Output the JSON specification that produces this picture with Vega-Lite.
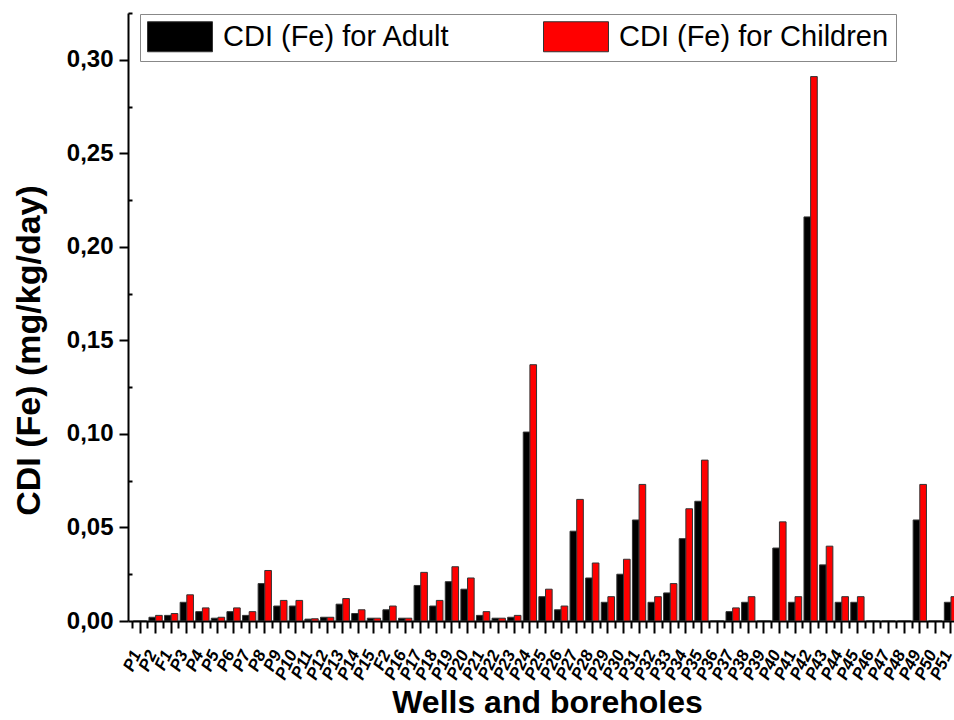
{
  "$schema": "https://vega.github.io/schema/vega-lite/v6.json",
  "width": 826,
  "height": 608,
  "autosize": {"type": "none"},
  "padding": {"left": 128, "top": 13, "right": 0, "bottom": 99},
  "background": "white",
  "config": {"view": {"stroke": null}, "font": "Liberation Sans"},
  "data": {"values": [
    {"site": "P1", "group": "CDI (Fe) for Adult", "value": 0}, {"site": "P1", "group": "CDI (Fe) for Children", "value": 0},
    {"site": "P2", "group": "CDI (Fe) for Adult", "value": 0.002}, {"site": "P2", "group": "CDI (Fe) for Children", "value": 0.003},
    {"site": "F1", "group": "CDI (Fe) for Adult", "value": 0.003}, {"site": "F1", "group": "CDI (Fe) for Children", "value": 0.004},
    {"site": "P3", "group": "CDI (Fe) for Adult", "value": 0.010}, {"site": "P3", "group": "CDI (Fe) for Children", "value": 0.014},
    {"site": "P4", "group": "CDI (Fe) for Adult", "value": 0.005}, {"site": "P4", "group": "CDI (Fe) for Children", "value": 0.007},
    {"site": "P5", "group": "CDI (Fe) for Adult", "value": 0.0015}, {"site": "P5", "group": "CDI (Fe) for Children", "value": 0.002},
    {"site": "P6", "group": "CDI (Fe) for Adult", "value": 0.005}, {"site": "P6", "group": "CDI (Fe) for Children", "value": 0.007},
    {"site": "P7", "group": "CDI (Fe) for Adult", "value": 0.003}, {"site": "P7", "group": "CDI (Fe) for Children", "value": 0.005},
    {"site": "P8", "group": "CDI (Fe) for Adult", "value": 0.020}, {"site": "P8", "group": "CDI (Fe) for Children", "value": 0.027},
    {"site": "P9", "group": "CDI (Fe) for Adult", "value": 0.008}, {"site": "P9", "group": "CDI (Fe) for Children", "value": 0.011},
    {"site": "P10", "group": "CDI (Fe) for Adult", "value": 0.008}, {"site": "P10", "group": "CDI (Fe) for Children", "value": 0.011},
    {"site": "P11", "group": "CDI (Fe) for Adult", "value": 0.001}, {"site": "P11", "group": "CDI (Fe) for Children", "value": 0.0012},
    {"site": "P12", "group": "CDI (Fe) for Adult", "value": 0.002}, {"site": "P12", "group": "CDI (Fe) for Children", "value": 0.002},
    {"site": "P13", "group": "CDI (Fe) for Adult", "value": 0.009}, {"site": "P13", "group": "CDI (Fe) for Children", "value": 0.012},
    {"site": "P14", "group": "CDI (Fe) for Adult", "value": 0.004}, {"site": "P14", "group": "CDI (Fe) for Children", "value": 0.006},
    {"site": "P15", "group": "CDI (Fe) for Adult", "value": 0.0015}, {"site": "P15", "group": "CDI (Fe) for Children", "value": 0.0015},
    {"site": "F2", "group": "CDI (Fe) for Adult", "value": 0.006}, {"site": "F2", "group": "CDI (Fe) for Children", "value": 0.008},
    {"site": "P16", "group": "CDI (Fe) for Adult", "value": 0.0015}, {"site": "P16", "group": "CDI (Fe) for Children", "value": 0.0015},
    {"site": "P17", "group": "CDI (Fe) for Adult", "value": 0.019}, {"site": "P17", "group": "CDI (Fe) for Children", "value": 0.026},
    {"site": "P18", "group": "CDI (Fe) for Adult", "value": 0.008}, {"site": "P18", "group": "CDI (Fe) for Children", "value": 0.011},
    {"site": "P19", "group": "CDI (Fe) for Adult", "value": 0.021}, {"site": "P19", "group": "CDI (Fe) for Children", "value": 0.029},
    {"site": "P20", "group": "CDI (Fe) for Adult", "value": 0.017}, {"site": "P20", "group": "CDI (Fe) for Children", "value": 0.023},
    {"site": "P21", "group": "CDI (Fe) for Adult", "value": 0.003}, {"site": "P21", "group": "CDI (Fe) for Children", "value": 0.005},
    {"site": "P22", "group": "CDI (Fe) for Adult", "value": 0.0015}, {"site": "P22", "group": "CDI (Fe) for Children", "value": 0.0015},
    {"site": "P23", "group": "CDI (Fe) for Adult", "value": 0.002}, {"site": "P23", "group": "CDI (Fe) for Children", "value": 0.003},
    {"site": "P24", "group": "CDI (Fe) for Adult", "value": 0.101}, {"site": "P24", "group": "CDI (Fe) for Children", "value": 0.137},
    {"site": "P25", "group": "CDI (Fe) for Adult", "value": 0.013}, {"site": "P25", "group": "CDI (Fe) for Children", "value": 0.017},
    {"site": "P26", "group": "CDI (Fe) for Adult", "value": 0.006}, {"site": "P26", "group": "CDI (Fe) for Children", "value": 0.008},
    {"site": "P27", "group": "CDI (Fe) for Adult", "value": 0.048}, {"site": "P27", "group": "CDI (Fe) for Children", "value": 0.065},
    {"site": "P28", "group": "CDI (Fe) for Adult", "value": 0.023}, {"site": "P28", "group": "CDI (Fe) for Children", "value": 0.031},
    {"site": "P29", "group": "CDI (Fe) for Adult", "value": 0.010}, {"site": "P29", "group": "CDI (Fe) for Children", "value": 0.013},
    {"site": "P30", "group": "CDI (Fe) for Adult", "value": 0.025}, {"site": "P30", "group": "CDI (Fe) for Children", "value": 0.033},
    {"site": "P31", "group": "CDI (Fe) for Adult", "value": 0.054}, {"site": "P31", "group": "CDI (Fe) for Children", "value": 0.073},
    {"site": "P32", "group": "CDI (Fe) for Adult", "value": 0.010}, {"site": "P32", "group": "CDI (Fe) for Children", "value": 0.013},
    {"site": "P33", "group": "CDI (Fe) for Adult", "value": 0.015}, {"site": "P33", "group": "CDI (Fe) for Children", "value": 0.020},
    {"site": "P34", "group": "CDI (Fe) for Adult", "value": 0.044}, {"site": "P34", "group": "CDI (Fe) for Children", "value": 0.060},
    {"site": "P35", "group": "CDI (Fe) for Adult", "value": 0.064}, {"site": "P35", "group": "CDI (Fe) for Children", "value": 0.086},
    {"site": "P36", "group": "CDI (Fe) for Adult", "value": 0}, {"site": "P36", "group": "CDI (Fe) for Children", "value": 0},
    {"site": "P37", "group": "CDI (Fe) for Adult", "value": 0.005}, {"site": "P37", "group": "CDI (Fe) for Children", "value": 0.007},
    {"site": "P38", "group": "CDI (Fe) for Adult", "value": 0.010}, {"site": "P38", "group": "CDI (Fe) for Children", "value": 0.013},
    {"site": "P39", "group": "CDI (Fe) for Adult", "value": 0}, {"site": "P39", "group": "CDI (Fe) for Children", "value": 0},
    {"site": "P40", "group": "CDI (Fe) for Adult", "value": 0.039}, {"site": "P40", "group": "CDI (Fe) for Children", "value": 0.053},
    {"site": "P41", "group": "CDI (Fe) for Adult", "value": 0.010}, {"site": "P41", "group": "CDI (Fe) for Children", "value": 0.013},
    {"site": "P42", "group": "CDI (Fe) for Adult", "value": 0.216}, {"site": "P42", "group": "CDI (Fe) for Children", "value": 0.291},
    {"site": "P43", "group": "CDI (Fe) for Adult", "value": 0.030}, {"site": "P43", "group": "CDI (Fe) for Children", "value": 0.040},
    {"site": "P44", "group": "CDI (Fe) for Adult", "value": 0.010}, {"site": "P44", "group": "CDI (Fe) for Children", "value": 0.013},
    {"site": "P45", "group": "CDI (Fe) for Adult", "value": 0.010}, {"site": "P45", "group": "CDI (Fe) for Children", "value": 0.013},
    {"site": "P46", "group": "CDI (Fe) for Adult", "value": 0}, {"site": "P46", "group": "CDI (Fe) for Children", "value": 0},
    {"site": "P47", "group": "CDI (Fe) for Adult", "value": 0}, {"site": "P47", "group": "CDI (Fe) for Children", "value": 0},
    {"site": "P48", "group": "CDI (Fe) for Adult", "value": 0}, {"site": "P48", "group": "CDI (Fe) for Children", "value": 0},
    {"site": "P49", "group": "CDI (Fe) for Adult", "value": 0.054}, {"site": "P49", "group": "CDI (Fe) for Children", "value": 0.073},
    {"site": "P50", "group": "CDI (Fe) for Adult", "value": 0}, {"site": "P50", "group": "CDI (Fe) for Children", "value": 0},
    {"site": "P51", "group": "CDI (Fe) for Adult", "value": 0.010}, {"site": "P51", "group": "CDI (Fe) for Children", "value": 0.013}
  ]},
  "layer": [
    {
      "mark": {"type": "bar", "clip": true, "stroke": "#333333", "strokeWidth": 1},
      "encoding": {
        "x": {
          "field": "site", "type": "nominal",
          "scale": {
            "domain": ["P1","P2","F1","P3","P4","P5","P6","P7","P8","P9","P10","P11","P12","P13","P14","P15","F2","P16","P17","P18","P19","P20","P21","P22","P23","P24","P25","P26","P27","P28","P29","P30","P31","P32","P33","P34","P35","P36","P37","P38","P39","P40","P41","P42","P43","P44","P45","P46","P47","P48","P49","P50","P51"],
            "range": [0, 835], "paddingInner": 0, "paddingOuter": 0.27
          },
          "axis": {
            "orient": "bottom",
            "title": "Wells and boreholes", "titleFontSize": 32, "titleFontWeight": "bold", "titleColor": "#000000",
            "titleX": 419, "titleY": 91, "titleBaseline": "alphabetic", "titleAnchor": null,
            "labelAngle": -65, "labelFontSize": 17, "labelFontWeight": "bold", "labelFontStyle": "italic",
            "labelColor": "#000000", "labelPadding": 18, "labelOverlap": false, "labelOffset": -3,
            "tickSize": 12, "tickWidth": 2, "tickColor": "#000000",
            "domainColor": "#000000", "domainWidth": 2, "grid": false
          }
        },
        "xOffset": {"field": "group", "type": "nominal", "scale": {"paddingInner": 0, "paddingOuter": 0.173}},
        "y": {
          "field": "value", "type": "quantitative",
          "scale": {"domain": [0, 0.325], "nice": false, "zero": true},
          "axis": {
            "orient": "left",
            "title": "CDI (Fe) (mg/kg/day)", "titleFontSize": 34, "titleFontWeight": "bold", "titleColor": "#000000",
            "titleX": -99, "titleY": 337, "titleBaseline": "middle",
            "values": [0, 0.05, 0.1, 0.15, 0.2, 0.25, 0.3],
            "labelExpr": "replace(format(datum.value, '.2f'), '.', ',')",
            "labelFontSize": 24, "labelFontWeight": "bold", "labelColor": "#000000", "labelPadding": 6,
            "tickSize": 9, "tickWidth": 2, "tickColor": "#000000",
            "domainColor": "#000000", "domainWidth": 2, "grid": false
          }
        },
        "color": {
          "field": "group", "type": "nominal",
          "scale": {"domain": ["CDI (Fe) for Adult", "CDI (Fe) for Children"], "range": ["#000000", "#ff0000"]},
          "legend": {
            "title": null, "orient": "none", "legendX": 12, "legendY": 1, "direction": "horizontal",
            "symbolType": "M-1,-1H3.333V1H-1Z", "symbolSize": 900, "symbolStrokeWidth": 1,
            "labelFontSize": 29, "labelColor": "#000000", "labelOffset": 45, "labelLimit": 0,
            "columnPadding": 90, "padding": 7, "strokeColor": "#888888", "fillColor": "#ffffff"
          }
        }
      }
    },
    {
      "mark": {"type": "bar", "opacity": 0},
      "encoding": {
        "x": {
          "field": "site", "type": "nominal",
          "axis": {"orient": "bottom", "bandPosition": 0, "labels": false, "domain": false, "title": null, "tickSize": 7, "tickWidth": 2, "tickColor": "#000000", "grid": false}
        },
        "y": {
          "field": "value", "type": "quantitative",
          "axis": {"orient": "left", "values": [0.025, 0.075, 0.125, 0.175, 0.225, 0.275, 0.325], "labels": false, "domain": false, "title": null, "tickSize": -4, "tickWidth": 2, "tickColor": "#000000", "grid": false}
        }
      }
    }
  ],
  "resolve": {"axis": {"x": "independent", "y": "independent"}}
}
